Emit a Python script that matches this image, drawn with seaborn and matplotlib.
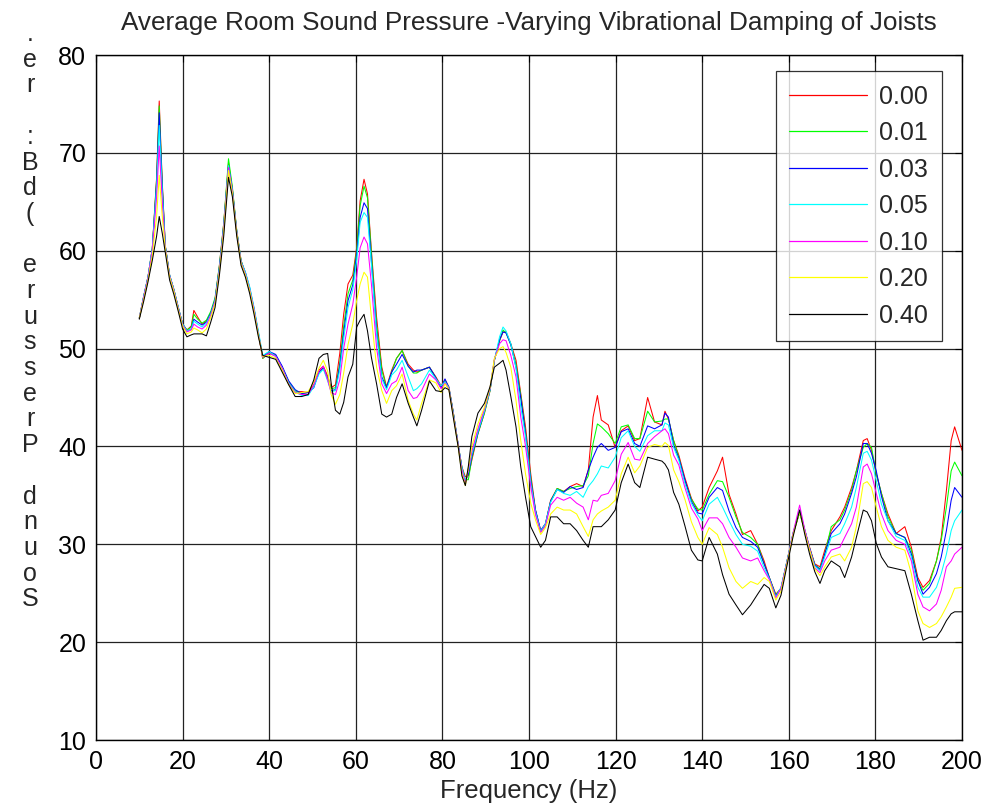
import numpy as np
import pandas as pd
import matplotlib
matplotlib.use("Agg")
import matplotlib.pyplot as plt
import seaborn as sns

# ---------------- data ----------------
freq = [10, 11, 12, 13, 14, 14.6, 15.3, 16, 17, 18,
        19, 20, 21, 22, 22.6, 23.5, 24.5, 25.5, 26.5, 27.5,
        28.5, 29.5, 30.6, 31.5, 32.5, 33.5, 34.5, 35.5, 36.5, 37.5,
        38.5, 40, 41.5, 43, 44.5, 46, 47.5, 49, 50.3, 51.5,
        52.5, 53.5, 54.3, 55.3, 56.3, 57.2, 58.2, 59.3, 60.2, 61,
        61.9, 62.7, 63.6, 64.8, 66, 67.1, 68.3, 69.4, 70.7, 72.1,
        73.3, 74.1, 75.2, 77, 78.5, 79.7, 80.6, 81.5, 82.5, 83.7,
        84.5, 85.3, 86, 86.8, 88.2, 89.7, 91, 92, 93.2, 94,
        94.7, 95.8, 97, 98.1, 99.2, 100.4, 101.5, 102.7, 103.8, 105,
        106.5, 108, 109.5, 111, 112.5, 113.7, 114.8, 115.8, 116.7, 118.3,
        119.9, 121.3, 122.9, 124.4, 125.6, 127.4, 129, 130.7, 131.4, 132.2,
        133.4, 134.6, 136, 137.5, 139, 140, 141.6, 143.5, 144.7, 146.2,
        147.8, 149.3, 151.2, 152.8, 154.3, 155.5, 157, 158.2, 159.8, 161,
        162.5, 163.7, 164.8, 166, 167.2, 168.3, 169.8, 171.8, 172.9, 174.5,
        175.6, 177.2, 178.1, 179.1, 180.2, 181.4, 182.9, 184.8, 186.8, 188.3,
        189.8, 191, 192.5, 194.1, 195.2, 196.4, 197.5, 198.3, 200]

spl_000 = [53.1, 55.3, 57.3, 60.2, 67.5, 75.3, 67.0, 60.5, 57.5, 56.0,
           54.2, 52.5, 51.9, 52.3, 53.9, 53.2, 52.5, 52.8, 53.6, 55.0,
           58.5, 62.8, 69.0, 66.3, 62.0, 59.0, 57.6, 56.0, 54.0, 51.5,
           49.0, 49.6, 49.3, 48.0, 46.6, 45.6, 45.6, 45.5, 46.3, 47.8,
           48.2, 47.2, 46.0, 46.3, 49.5, 53.5, 56.6, 57.5, 60.3, 65.1,
           67.3, 65.8, 60.0, 53.2, 48.1, 46.1, 47.8, 49.0, 49.8, 48.4,
           47.8, 47.6, 47.8, 48.1, 47.1, 46.2, 46.8, 46.1, 43.5, 40.0,
           37.9, 36.9, 37.0, 38.6, 41.3, 43.4, 45.7, 48.8, 50.8, 51.7,
           51.7, 50.5, 48.8, 45.4, 42.0, 37.2, 33.5, 31.4, 32.1, 34.5,
           35.7, 35.4, 35.9, 36.2, 35.9, 37.6, 43.0, 45.2, 42.7, 42.2,
           39.9, 41.6, 42.1, 40.6, 40.8, 45.0, 42.5, 42.2, 43.6, 42.8,
           40.6, 39.1, 36.8, 34.7, 33.4, 33.8, 35.8, 37.5, 38.9, 35.1,
           33.1, 31.0, 31.4, 30.0, 28.3, 26.6, 24.9, 25.5, 28.7, 31.1,
           33.3, 31.4, 29.7, 28.0, 27.7, 29.4, 31.4, 32.8, 33.8, 35.8,
           37.5, 40.6, 40.8, 39.6, 37.2, 35.2, 33.1, 31.1, 31.8, 29.7,
           26.6, 25.6, 26.3, 28.3, 30.7, 35.5, 40.6, 42.0, 39.6]

spl_001 = [53.1, 55.3, 57.3, 60.2, 67.3, 74.8, 66.8, 60.5, 57.5, 56.0,
           54.2, 52.5, 51.9, 52.2, 53.5, 53.0, 52.6, 52.9, 53.8, 55.2,
           58.5, 62.8, 69.4, 66.5, 62.1, 59.0, 57.7, 56.1, 54.0, 51.6,
           49.0, 49.5, 49.3, 48.1, 46.6, 45.7, 45.4, 45.3, 46.2, 47.6,
           48.0, 47.0, 45.9, 46.0, 48.5, 52.3, 55.6, 57.0, 60.0, 64.6,
           66.6, 65.4, 59.7, 52.5, 47.8, 46.0, 47.6, 49.0, 49.8, 48.2,
           47.5, 47.5, 47.8, 48.1, 47.0, 46.0, 46.7, 46.0, 43.5, 40.0,
           37.9, 36.6, 36.6, 38.8, 41.3, 43.4, 45.7, 48.8, 50.8, 51.9,
           51.6, 50.4, 48.4, 45.2, 41.5, 36.8, 33.4, 31.3, 32.0, 34.4,
           35.7, 35.4, 35.7, 35.9, 36.0, 37.0, 40.3, 42.3, 42.0, 41.3,
           40.3, 42.0, 42.2, 40.8, 40.8, 43.6, 42.5, 42.6, 42.8, 42.8,
           40.6, 38.9, 36.5, 34.6, 33.6, 33.5, 35.1, 36.5, 36.4, 34.8,
           32.8, 31.2, 30.7, 30.0, 28.0, 26.6, 24.8, 25.5, 28.7, 31.1,
           33.2, 31.4, 29.6, 27.9, 27.5, 29.0, 31.8, 32.5, 33.5, 35.5,
           37.5, 39.9, 40.3, 39.9, 37.2, 35.2, 32.8, 31.1, 30.7, 29.4,
           26.3, 25.3, 26.0, 28.3, 30.4, 33.8, 37.5, 38.4, 37.0]

spl_003 = [53.1, 55.3, 57.3, 60.2, 67.0, 74.1, 66.5, 60.5, 57.5, 56.0,
           54.2, 52.5, 51.8, 52.0, 53.0, 52.7, 52.4, 52.7, 53.6, 55.0,
           58.3, 62.6, 68.7, 66.2, 62.0, 58.9, 57.8, 56.2, 54.1, 51.6,
           49.2, 49.7, 49.4, 48.2, 46.7, 45.8, 45.4, 45.5, 46.0, 47.6,
           48.0, 46.9, 45.7, 45.8, 48.2, 51.6, 54.9, 56.5, 59.6, 63.4,
           64.9, 64.3, 59.0, 51.8, 47.1, 46.0, 47.6, 48.4, 49.4, 48.2,
           47.6, 47.8, 47.8, 48.1, 47.0, 46.0, 46.9, 46.0, 43.5, 40.0,
           37.8, 36.4, 37.2, 39.0, 41.4, 43.6, 45.8, 48.8, 50.9, 51.7,
           51.6, 50.4, 48.1, 44.9, 41.3, 36.5, 33.5, 31.4, 32.1, 34.4,
           35.6, 35.3, 35.9, 35.6, 35.8, 37.6, 38.9, 39.9, 40.3, 39.6,
           39.9, 41.5, 41.8, 40.3, 40.0, 42.1, 41.8, 42.2, 43.4, 43.0,
           40.1, 38.8, 36.6, 34.4, 33.2, 33.1, 34.8, 35.8, 35.5, 33.4,
           31.7, 30.7, 30.3, 29.7, 28.0, 26.6, 24.7, 25.5, 28.7, 31.1,
           33.4, 31.4, 29.6, 27.9, 27.4, 29.0, 31.1, 32.1, 33.1, 35.2,
           36.9, 40.3, 40.3, 39.3, 37.5, 34.9, 32.4, 31.1, 30.7, 29.0,
           26.3, 24.9, 25.6, 27.0, 28.7, 31.4, 34.5, 35.8, 34.8]

spl_005 = [53.1, 55.3, 57.3, 60.2, 66.5, 72.8, 66.0, 60.4, 57.5, 56.0,
           54.2, 52.5, 51.8, 52.0, 52.8, 52.5, 52.2, 52.6, 53.5, 54.9,
           58.2, 62.5, 68.7, 66.1, 62.0, 58.9, 57.8, 56.3, 54.2, 51.8,
           49.3, 49.7, 49.2, 48.0, 46.5, 45.6, 45.2, 45.2, 46.1, 47.4,
           47.9, 46.7, 45.6, 45.7, 47.8, 51.0, 54.2, 56.0, 59.0, 62.9,
           63.9, 63.4, 58.6, 51.5, 46.9, 45.8, 47.3, 47.8, 48.8, 47.1,
           45.7, 45.9, 46.4, 47.8, 46.9, 46.2, 46.6, 46.0, 43.4, 40.0,
           37.8, 36.5, 37.5, 39.2, 41.5, 43.6, 45.8, 48.8, 51.2, 52.2,
           51.8, 50.5, 48.0, 44.0, 41.0, 36.3, 33.3, 31.3, 32.1, 34.3,
           35.6, 35.2, 35.0, 35.4, 34.8, 35.9, 36.5, 37.2, 38.0, 37.8,
           38.9, 40.9, 41.6, 40.0, 39.5, 41.1, 41.6, 41.6, 42.4, 42.2,
           39.9, 38.6, 36.2, 34.2, 33.0, 32.4, 34.1, 34.8, 33.8, 32.4,
           31.0, 30.0, 29.8, 29.3, 27.6, 26.5, 24.6, 25.6, 28.7, 31.2,
           33.5, 31.5, 29.5, 27.8, 27.3, 28.7, 30.7, 31.1, 32.1, 33.8,
           35.8, 39.3, 39.5, 38.6, 36.5, 34.1, 32.4, 30.8, 30.4, 28.7,
           25.6, 24.6, 24.6, 25.6, 27.0, 29.0, 31.4, 32.4, 33.5]

spl_010 = [53.1, 55.2, 57.2, 60.0, 65.5, 70.7, 65.0, 60.3, 57.4, 55.9,
           54.1, 52.4, 51.7, 51.9, 52.5, 52.2, 52.0, 52.4, 53.4, 54.8,
           58.0, 62.3, 68.5, 66.0, 61.9, 58.8, 57.6, 56.0, 54.0, 51.5,
           49.1, 49.5, 49.2, 48.0, 46.4, 45.5, 45.3, 45.3, 46.3, 47.7,
           48.2, 46.8, 45.5, 45.3, 46.8, 50.0, 52.5, 54.5, 57.3, 60.3,
           61.4, 60.7, 56.6, 50.1, 46.4, 45.4, 46.4, 46.7, 48.1, 45.7,
           44.9, 45.0, 45.7, 47.4, 46.8, 45.9, 46.5, 45.9, 43.3, 40.0,
           37.6, 36.2, 37.6, 39.5, 41.8, 43.8, 45.9, 48.9, 50.5, 50.9,
           50.8, 49.3, 47.1, 43.0, 40.0, 35.9, 33.0, 31.2, 31.9, 34.0,
           34.8, 34.5, 34.8, 34.2, 33.8, 32.5, 34.5, 34.4, 35.0, 35.2,
           36.5, 39.2, 40.4, 38.7, 38.6, 40.3, 41.0, 41.6, 41.8, 41.3,
           39.1, 38.1, 35.8, 33.7, 32.6, 31.4, 32.7, 32.7, 32.1, 30.7,
           29.7, 28.6, 28.3, 28.6, 27.3, 26.4, 24.5, 25.5, 28.6, 31.2,
           34.0, 31.5, 29.5, 27.6, 27.1, 28.3, 29.4, 29.7, 30.7, 32.1,
           33.8, 37.9, 38.2, 37.2, 35.2, 33.1, 31.4, 30.4, 30.0, 28.3,
           24.9, 23.6, 23.2, 23.9, 25.3, 27.7, 28.3, 29.0, 29.7]

spl_020 = [53.1, 55.0, 57.0, 59.5, 63.5, 67.7, 63.5, 60.2, 57.3, 55.8,
           54.0, 52.3, 51.5, 51.7, 52.1, 51.9, 51.6, 52.0, 53.2, 54.6,
           57.8, 62.0, 68.2, 65.8, 61.8, 58.7, 57.5, 55.9, 53.8, 51.4,
           49.2, 49.3, 49.0, 47.8, 46.3, 45.4, 45.5, 45.6, 46.6, 48.0,
           48.8, 47.7, 45.3, 44.3, 45.3, 47.5, 50.4, 52.5, 54.9, 56.6,
           57.8, 57.3, 53.2, 48.1, 45.7, 44.4, 45.7, 46.2, 47.4, 44.7,
           43.3, 42.7, 44.4, 46.8, 46.5, 45.5, 46.4, 45.8, 43.2, 39.8,
           37.2, 36.0, 37.8, 40.0, 42.3, 44.0, 46.0, 49.0, 50.0, 50.2,
           49.6, 48.1, 44.7, 40.6, 37.2, 34.2, 32.5, 31.0, 31.7, 33.1,
           33.8, 33.5, 33.5, 33.1, 31.8, 30.8, 32.5, 33.1, 33.4, 33.8,
           34.5, 37.2, 38.9, 37.3, 38.0, 39.9, 40.2, 40.0, 40.4, 40.1,
           37.6, 36.4, 34.6, 32.3, 30.7, 30.0, 31.7, 31.0, 29.7, 27.6,
           26.2, 25.5, 26.2, 25.9, 26.6, 26.2, 24.3, 25.2, 28.5, 31.0,
           33.3, 31.2, 29.4, 27.5, 26.8, 27.7, 28.7, 29.0, 28.3, 29.7,
           31.8, 36.2, 36.4, 35.8, 33.8, 31.8, 30.4, 29.7, 29.4, 27.0,
           23.2, 21.9, 21.5, 21.9, 22.6, 23.6, 24.6, 25.5, 25.6]

spl_040 = [53.0, 54.8, 56.8, 59.0, 61.5, 63.5, 61.8, 59.8, 57.0, 55.5,
           53.8, 52.0, 51.2, 51.4, 51.5, 51.5, 51.5, 51.3, 52.7, 54.2,
           57.5, 61.5, 67.5, 65.5, 61.5, 58.5, 57.3, 55.6, 53.5, 51.2,
           49.3, 49.1, 48.9, 47.6, 46.3, 45.1, 45.1, 45.3, 46.8, 49.0,
           49.4, 49.5, 46.5, 43.7, 43.3, 44.5, 47.1, 48.4, 52.2, 52.9,
           53.5, 51.8, 49.1, 46.4, 43.3, 43.0, 43.3, 45.0, 46.4, 44.4,
           43.0, 42.1, 43.7, 46.7, 45.7, 45.6, 46.0, 45.8, 43.0, 39.8,
           37.0, 36.0, 38.0, 41.0, 43.4, 44.4, 46.1, 48.1, 48.5, 48.8,
           47.8, 45.1, 42.0, 37.9, 34.8, 31.8, 30.8, 29.7, 30.4, 32.8,
           32.8, 32.1, 32.1, 31.4, 30.4, 29.7, 31.8, 31.8, 31.8, 32.5,
           33.5, 36.3, 38.2, 36.3, 35.8, 38.9, 38.7, 38.5, 38.2, 37.6,
           35.3, 34.1, 31.9, 29.4, 28.4, 28.3, 30.7, 29.0, 26.9, 24.9,
           23.8, 22.8, 23.8, 24.9, 25.9, 25.5, 23.5, 24.8, 28.3, 30.8,
           33.5, 31.0, 29.0, 27.2, 26.0, 27.3, 28.3, 27.7, 26.6, 28.7,
           30.7, 33.5, 33.3, 32.4, 30.1, 28.7, 27.7, 27.5, 27.3, 24.9,
           22.2, 20.2, 20.5, 20.5, 21.2, 22.2, 22.9, 23.1, 23.1]

damping_labels = ["0.00", "0.01", "0.03", "0.05", "0.10", "0.20", "0.40"]
series = [spl_000, spl_001, spl_003, spl_005, spl_010, spl_020, spl_040]
line_colors = ["#ff0000", "#00ff00", "#0000ff", "#00ffff", "#ff00ff", "#ffff00", "#000000"]

title_text = "Average Room Sound Pressure -Varying Vibrational Damping of Joists"
xlabel_text = "Frequency (Hz)"
ylabel_chars = list(".er :Bd( erusserP dnuoS")
xticks = list(range(0, 201, 20))
yticks = list(range(10, 81, 10))

# ---------------- build long-form table ----------------
frames = []
for lab, vals in zip(damping_labels, series):
    frames.append(pd.DataFrame({"freq": freq, "spl": vals, "damping": lab}))
df = pd.concat(frames, ignore_index=True)

# ---------------- plot ----------------
sns.set_style("white")
plt.rcParams["font.family"] = ["Liberation Sans", "DejaVu Sans"]

W, H = 987, 807
fig = plt.figure(figsize=(W / 100, H / 100), dpi=100)
ax = fig.add_axes([96 / W, 1 - 740 / H, (962 - 96) / W, (740 - 55) / H])

sns.lineplot(data=df, x="freq", y="spl", hue="damping", hue_order=damping_labels,
             palette=line_colors, linewidth=0.75, estimator=None, ax=ax)

ax.set_xlim(0, 200)
ax.set_ylim(10, 80)
ax.set_xticks(xticks)
ax.set_yticks(yticks)
ax.tick_params(axis="both", labelsize=18, direction="in", length=5, width=0.8,
               top=True, right=True, colors="black", pad=7)
ax.grid(True, color="#222222", linewidth=0.9, linestyle="-")
ax.set_axisbelow(True)
for s in ax.spines.values():
    s.set_color("black")
    s.set_linewidth(1.0)

ax.set_xlabel(xlabel_text, fontsize=18.5, labelpad=4)
ax.set_ylabel("")
ax.set_title(title_text, fontsize=18.8, pad=18)

# y label rendered as a vertical stack of upright characters
for i, ch in enumerate(ylabel_chars):
    fig.text(30 / W, 1 - (34 + i * 25.7) / H, ch, ha="center", va="center", fontsize=18)

leg = ax.legend(loc="upper right", bbox_to_anchor=(0.977, 0.977), borderaxespad=0,
                frameon=True, fancybox=False, fontsize=18, handlelength=3.1,
                labelspacing=0.5, handletextpad=0.5, borderpad=0.55, title=None)
leg.get_frame().set_edgecolor("black")
leg.get_frame().set_linewidth(0.9)
for line in leg.get_lines():
    line.set_linewidth(0.9)

fig.savefig("out.png", dpi=100)
